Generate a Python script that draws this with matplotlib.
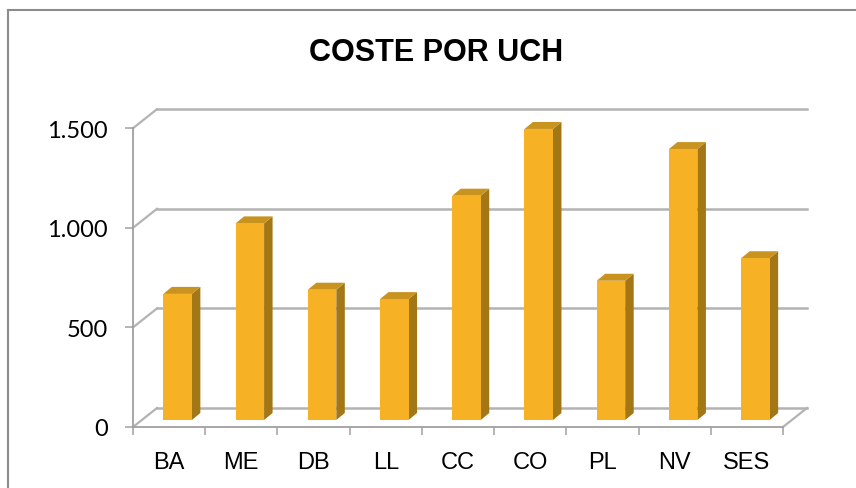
import matplotlib
matplotlib.use("Agg")
import matplotlib.pyplot as plt
from matplotlib.patches import Polygon, Rectangle
from matplotlib.lines import Line2D

categories = ["BA", "ME", "DB", "LL", "CC", "CO", "PL", "NV", "SES"]
values = [633, 987, 654, 607, 1126, 1461, 699, 1360, 812]
yticks = [0, 500, 1000, 1500]
ytick_labels = ["0", "500", "1.000", "1.500"]
title = "COSTE POR UCH"

W, H = 856, 489
fig = plt.figure(figsize=(W / 100, H / 100), dpi=100)

# pixel layout of the plot box
px_left, px_right = 133, 820
px_bottom, px_top = 428, 100
px_per_cat = (783 - 133) / len(categories)
px_per_val = 99.6 / 500

xlim = (-0.5, -0.5 + (px_right - px_left) / px_per_cat)
ylim = (0, (px_bottom - px_top) / px_per_val)
ax = fig.add_axes([px_left / W, 1 - px_bottom / H,
                   (px_right - px_left) / W, (px_bottom - px_top) / H])
ax.set_xlim(*xlim)
ax.set_ylim(*ylim)
ax.patch.set_alpha(0)

# depth offsets (pixel -> data)
D = 24 / px_per_cat
Dy = 19 / px_per_val
fdx, fdy = 8.5 / px_per_cat, 7 / px_per_val
bw = 28.5 / px_per_cat

grid_c = "#b3b3b3"
n = len(categories)

# back wall gridlines + side wall diagonals
for v in yticks:
    ax.plot([-0.5, -0.5 + D], [v, v + Dy], color=grid_c, lw=1.6, clip_on=False, zorder=1)
    ax.plot([-0.5 + D, n - 0.5 + D], [v + Dy, v + Dy], color=grid_c, lw=1.8,
            clip_on=False, zorder=1)
# floor right edge
ax.plot([n - 0.5, n - 0.5 + D], [0, Dy], color=grid_c, lw=1.6, clip_on=False, zorder=1)

front_c = "#F7B125"
side_c = "#A37616"
top_c = "#C9931F"
for i, v in enumerate(values):
    x0 = i - bw / 2 + fdx
    x1 = x0 + bw
    y0 = fdy
    y1 = v + fdy
    ax.add_patch(Polygon([(x1, y0), (x1 + fdx, y0 + fdy), (x1 + fdx, y1 + fdy), (x1, y1)],
                         closed=True, fc=side_c, ec="none", zorder=3))
    ax.add_patch(Polygon([(x0, y1), (x1, y1), (x1 + fdx, y1 + fdy), (x0 + fdx, y1 + fdy)],
                         closed=True, fc=top_c, ec="none", zorder=3))
    ax.add_patch(Rectangle((x0, y0), bw, v, fc=front_c, ec="none", zorder=4))

# axes
for s in ["top", "right"]:
    ax.spines[s].set_visible(False)
ax.spines["left"].set_position(("data", -0.5))
ax.spines["left"].set_bounds(0, yticks[-1])
ax.spines["bottom"].set_bounds(-0.5, n - 0.5)
for s in ["left", "bottom"]:
    ax.spines[s].set_color("#a0a0a0")
    ax.spines[s].set_linewidth(1.3)

ax.set_yticks(yticks)
ax.set_yticklabels(ytick_labels, fontfamily="Lato", fontsize=17)
ax.tick_params(axis="y", length=6, width=1.1, color="#a0a0a0", pad=12)
for lab in ax.get_yticklabels():
    lab.set_va("center_baseline")

ax.set_xticks([i - 0.5 for i in range(n + 1)])
ax.set_xticklabels([])
ax.tick_params(axis="x", which="major", length=5.5, width=1.1, color="#a0a0a0")
ax.set_xticks(range(n), minor=True)
ax.set_xticklabels(categories, minor=True, fontfamily="Liberation Sans", fontsize=17)
ax.tick_params(axis="x", which="minor", length=0, pad=17)

fig.text(436 / W, 1 - 53 / H, title, ha="center", va="center",
         fontfamily="Liberation Sans", fontweight="bold", fontsize=22)

# chart frame
fig.add_artist(Line2D([8 / W, 8 / W], [0, 1 - 11 / H], transform=fig.transFigure,
                      color="#8c8c8c", lw=1.5))
fig.add_artist(Line2D([8 / W, 1], [1 - 11 / H, 1 - 11 / H], transform=fig.transFigure,
                      color="#8c8c8c", lw=1.5))

fig.savefig("out.png", dpi=100)
